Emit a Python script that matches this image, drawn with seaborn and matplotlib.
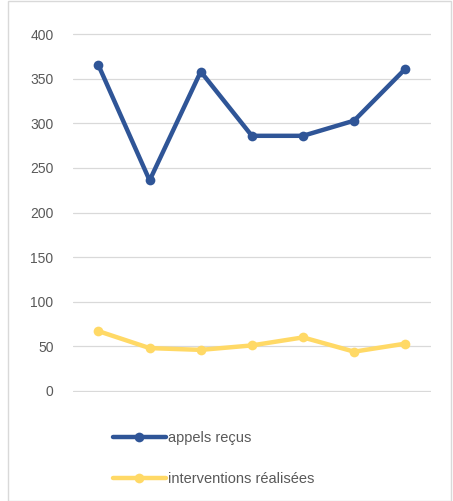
import matplotlib
matplotlib.use("Agg")
import matplotlib.pyplot as plt
import pandas as pd
import seaborn as sns
from matplotlib.patches import Rectangle

# values
periods = [1, 2, 3, 4, 5, 6, 7]
appels_recus = [365, 236, 358, 286, 286, 303, 361]
interventions = [67, 48, 46, 51, 60, 44, 53]
series_names = ["appels reçus", "interventions réalisées"]
y_ticks = [0, 50, 100, 150, 200, 250, 300, 350, 400]

df = pd.DataFrame({
    "periode": periods * 2,
    "valeur": appels_recus + interventions,
    "serie": [series_names[0]] * len(periods) + [series_names[1]] * len(periods),
})

sns.set_style("white")
plt.rcParams["font.family"] = ["Liberation Sans", "DejaVu Sans"]

fig = plt.figure(figsize=(4.53, 5.01), dpi=100)
ax = fig.add_axes([0.161, 0.2176, 0.790, 0.7164])

palette = {series_names[0]: "#2F5597", series_names[1]: "#FFD966"}
sns.lineplot(data=df, x="periode", y="valeur", hue="serie", palette=palette,
             marker="o", markersize=7, markeredgewidth=0, linewidth=3.2,
             ax=ax, legend=True)

ax.set_xlim(0.5, 7.5)
ax.set_ylim(-1.2, 401.2)
ax.set_yticks(y_ticks)
ax.set_xticks([])
ax.grid(axis="y", color="#d9d9d9", linewidth=0.9)
ax.set_axisbelow(True)
for s in ax.spines.values():
    s.set_visible(False)
ax.tick_params(axis="y", length=0, labelsize=10, labelcolor="#595959", pad=14)
ax.set_xlabel("")
ax.set_ylabel("")

handles, labels = ax.get_legend_handles_labels()
ax.legend_.remove()
fig.legend(handles, labels, loc="upper left", bbox_to_anchor=(0.237, 0.152),
           frameon=False, fontsize=10.5, handlelength=3.6, handletextpad=0.15,
           labelspacing=1.85, labelcolor="#595959", borderaxespad=0)

fig.patches.append(Rectangle((0.018, 0.0), 0.978, 0.999, transform=fig.transFigure,
                             fill=False, edgecolor="#d9d9d9", linewidth=1))

fig.savefig("out.png", dpi=100)
